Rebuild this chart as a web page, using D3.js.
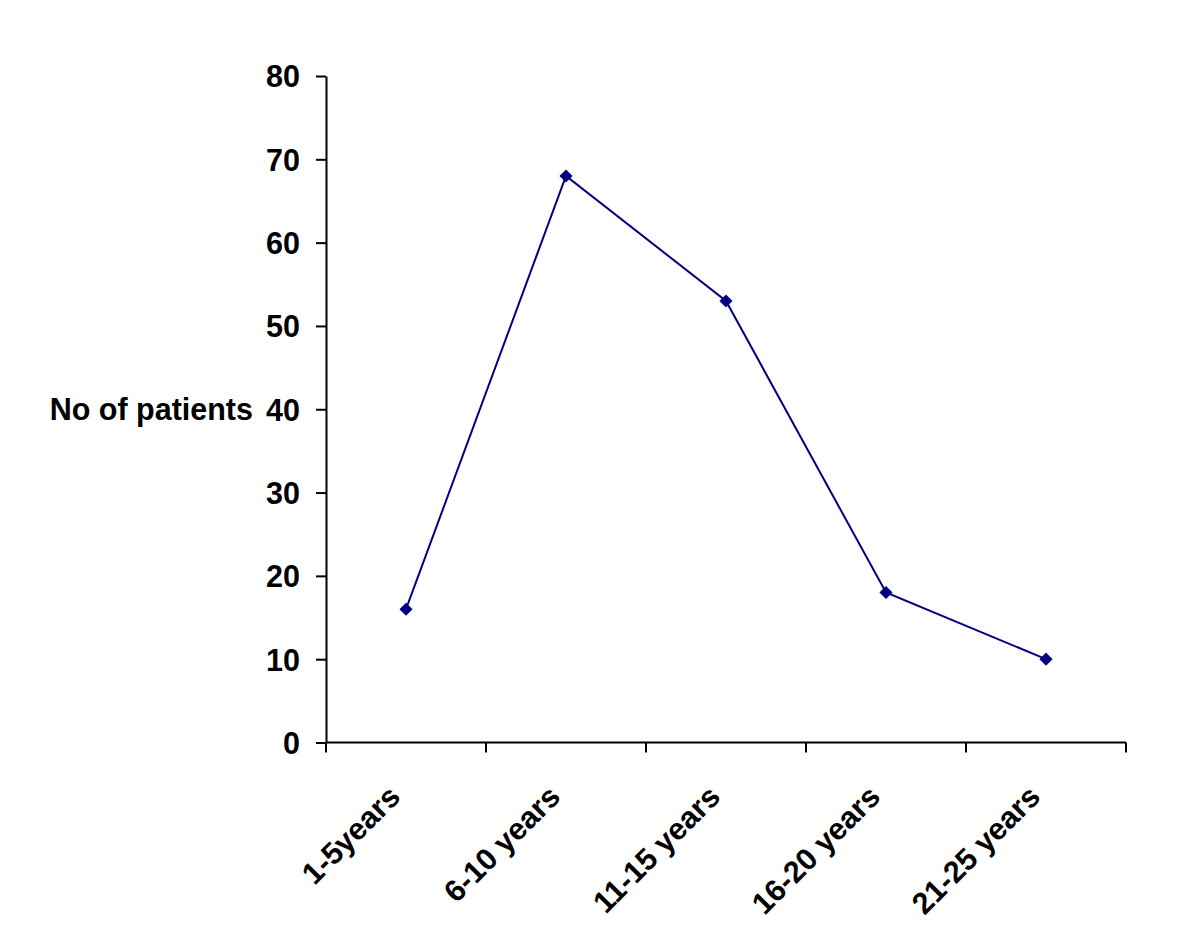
<!DOCTYPE html>
<html>
<head>
<meta charset="utf-8">
<script src="https://cdn.jsdelivr.net/npm/d3@7"></script>
<style>
    body { margin: 0; background: #ffffff; }
    svg text { font-family: "Liberation Sans", Arial, sans-serif; font-weight: bold; fill: #000; }
</style>
</head>
<body>
<div id="graph"></div>
<script>
// Patients per age group
const categories = ["1-5years", "6-10 years", "11-15 years", "16-20 years", "21-25 years"];
const patients = [16, 68, 53, 18, 10];
const yTicks = [0, 10, 20, 30, 40, 50, 60, 70, 80];

const width = 1200, height = 948;
const margin = {top: 76, right: 74, bottom: 205.5, left: 326};
const plotW = width - margin.left - margin.right;
const plotH = height - margin.top - margin.bottom;
const fontSize = "30.5px";

let svg = d3.select("#graph")
    .append("svg")
    .attr("width", width)
    .attr("height", height)
    .append("g")
    .attr("transform", `translate(${margin.left}, ${margin.top})`);

let x = d3.scaleBand()
    .domain(categories)
    .range([0, plotW])
    .padding(0);

let y = d3.scaleLinear()
    .domain([0, 80])
    .range([plotH, 0]);

// y axis
let yAxis = svg.append("g")
    .call(d3.axisLeft(y).tickValues(yTicks).tickSize(10).tickPadding(16).tickSizeOuter(0));
yAxis.select(".domain").attr("stroke-width", 2);
yAxis.selectAll(".tick line").attr("stroke-width", 2);
yAxis.selectAll("text").style("font-size", fontSize).attr("dy", "0.36em");

// x axis - ticks sit on the band edges
let xAxis = svg.append("g")
    .attr("transform", `translate(0, ${plotH})`);
xAxis.append("line")
    .attr("x1", 0).attr("x2", plotW)
    .attr("stroke", "#000").attr("stroke-width", 2);
let edges = categories.map(c => x(c)).concat([plotW]);
xAxis.selectAll(".edge")
    .data(edges)
    .enter()
    .append("line")
    .attr("x1", d => d).attr("x2", d => d)
    .attr("y1", 0).attr("y2", 10)
    .attr("stroke", "#000").attr("stroke-width", 2);
xAxis.selectAll(".lbl")
    .data(categories)
    .enter()
    .append("text")
    .attr("transform", d => `translate(${x(d) + x.bandwidth() / 2 - 4}, 56) rotate(-45)`)
    .style("text-anchor", "end")
    .style("font-size", fontSize)
    .text(d => d);

// y-axis label
svg.append("text")
    .attr("x", -73)
    .attr("y", y(40))
    .attr("dy", "0.36em")
    .style("text-anchor", "end")
    .style("font-size", fontSize)
    .text("No of patients");

// line + markers
let pts = categories.map((c, i) => ({cat: c, val: patients[i]}));
let line = d3.line()
    .x(d => x(d.cat) + x.bandwidth() / 2)
    .y(d => y(d.val));

svg.append("path")
    .datum(pts)
    .attr("d", line)
    .attr("fill", "none")
    .attr("stroke", "#000080")
    .attr("stroke-width", 2);

svg.selectAll(".pt")
    .data(pts)
    .enter()
    .append("path")
    .attr("d", d3.symbol().type(d3.symbolDiamond2).size(110))
    .attr("transform", d => `translate(${x(d.cat) + x.bandwidth() / 2}, ${y(d.val)})`)
    .attr("fill", "#000080");
</script>
</body>
</html>
